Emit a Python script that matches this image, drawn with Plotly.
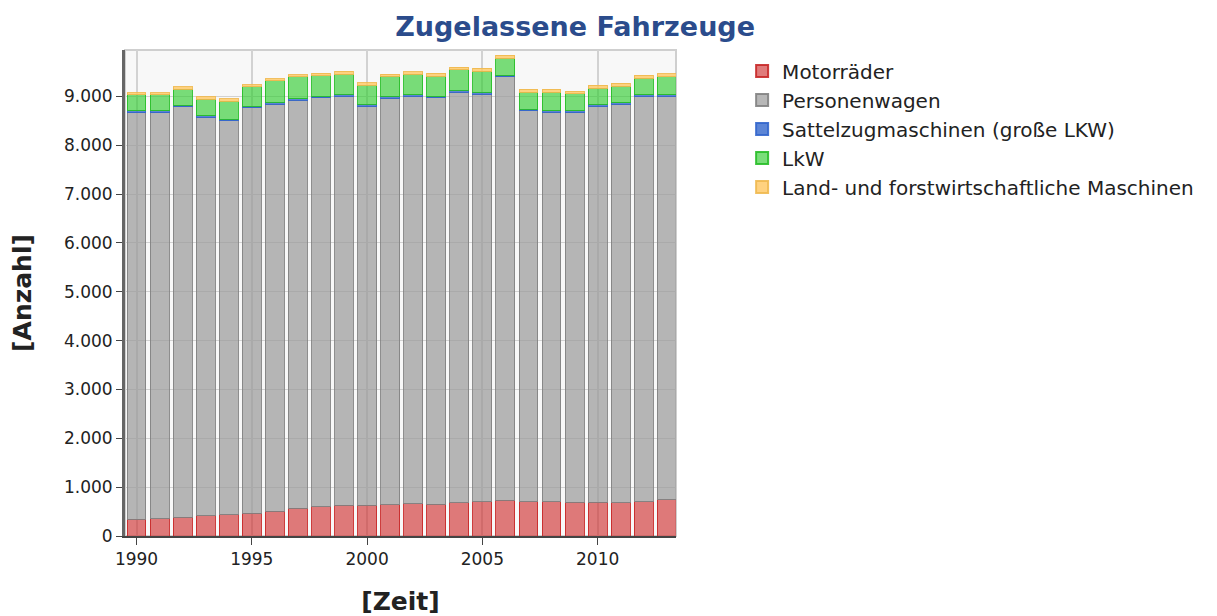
import plotly.graph_objects as go

jahre = list(range(1990, 2014))

motorraeder = [340, 350, 380, 410, 440, 470, 510, 570, 600, 630, 630, 640,
               660, 655, 680, 700, 735, 700, 700, 690, 695, 685, 700, 740]
personenwagen = [8330, 8320, 8410, 8160, 8060, 8300, 8330, 8350, 8370, 8375, 8170, 8325,
                 8340, 8315, 8410, 8345, 8670, 8005, 7975, 7980, 8105, 8150, 8305, 8260]
sattelzug = [35, 35, 33, 35, 33, 33, 40, 35, 34, 35, 40, 40,
             34, 34, 40, 35, 33, 28, 29, 35, 35, 35, 28, 34]
lkw = [328, 328, 322, 341, 370, 399, 440, 446, 419, 417, 391, 404,
       417, 411, 411, 437, 343, 356, 382, 348, 335, 341, 342, 370]
landforst = [41, 41, 48, 49, 49, 41, 41, 47, 47, 61, 49, 48,
             56, 55, 55, 56, 62, 61, 61, 54, 55, 62, 55, 62]

serien = [
    ("Motorräder", motorraeder, "rgba(208,52,52,0.65)", "rgba(200,40,40,0.9)"),
    ("Personenwagen", personenwagen, "rgba(153,153,153,0.7)", "rgba(130,130,130,0.9)"),
    ("Sattelzugmaschinen (große LKW)", sattelzug, "rgba(51,102,204,0.8)", "rgba(51,102,204,0.9)"),
    ("LkW", lkw, "rgba(51,204,51,0.65)", "rgba(40,190,40,0.9)"),
    ("Land- und forstwirtschaftliche Maschinen", landforst, "rgba(255,199,96,0.8)", "rgba(240,185,80,0.9)"),
]

fig = go.Figure()
for name, werte, farbe, rand in serien:
    fig.add_trace(go.Bar(x=jahre, y=werte, name=name,
                         marker=dict(color=farbe, line=dict(color=rand, width=1))))

font = "DejaVu Sans"
fig.update_layout(
    barmode="stack",
    bargap=0.18,
    width=1217, height=616,
    margin=dict(l=117, r=549, t=42, b=88, autoexpand=False),
    paper_bgcolor="white",
    plot_bgcolor="#f8f8f8",
    separators=",.",
    font=dict(family=font, size=17, color="#222"),
    title=dict(text="<b>Zugelassene Fahrzeuge</b>", x=0.466, xref="container", xanchor="center",
               y=0.985, yanchor="top", yref="container",
               font=dict(family=font, size=27, color="#2b4c8c")),
    legend=dict(x=1.12, y=0.997, xanchor="left", yanchor="top", traceorder="normal",
                font=dict(family=font, size=20, color="#222"), itemsizing="constant",
                tracegroupgap=0),
    showlegend=True,
)
fig.update_xaxes(range=[1989.5, 2013.4], tick0=1990, dtick=5, ticks="outside", ticklen=7,
                 tickcolor="#444", showgrid=True, gridcolor="#d2d2d2", gridwidth=2,
                 showline=True, linecolor="#444", linewidth=2, zeroline=False, automargin=False,
                 title=dict(text="<b>[Zeit]</b>", font=dict(size=25), standoff=24))
fig.update_yaxes(range=[0, 9950], dtick=1000, tickformat=",d", ticks="outside", ticklen=6,
                 tickcolor="#444", showgrid=True, gridcolor="#d2d2d2", gridwidth=1,
                 showline=True, linecolor="#666", linewidth=3, zeroline=False, automargin=False,
                 title=dict(text="<b>[Anzahl]</b>", font=dict(size=25), standoff=28))
fig.add_shape(type="rect", xref="paper", yref="paper", x0=0, x1=1, y0=0, y1=1,
              line=dict(color="#cfcfcf", width=2), layer="below")

fig.write_html("out.html")
